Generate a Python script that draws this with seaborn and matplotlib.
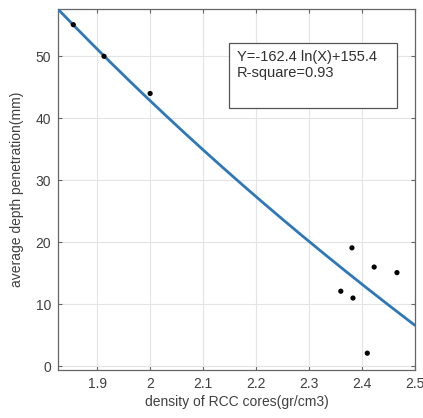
import numpy as np
import pandas as pd
import matplotlib
matplotlib.use("Agg")
import matplotlib.pyplot as plt
from matplotlib.patches import Rectangle
import seaborn as sns

# Data
density = [1.855, 1.913, 2.000, 2.360, 2.381, 2.383, 2.410, 2.423, 2.466]
depth = [55.1, 50.0, 44.0, 12.1, 19.1, 11.0, 2.1, 16.0, 15.1]

# Fitted model as printed on the chart
fit_a = -162.4
fit_b = 155.4
fit_label = ["Y=-162.4 ln(X)+155.4", "R-square=0.93"]

x_ticks = [1.9, 2.0, 2.1, 2.2, 2.3, 2.4, 2.5]
x_tick_labels = ["1.9", "2", "2.1", "2.2", "2.3", "2.4", "2.5"]
y_ticks = [0, 10, 20, 30, 40, 50]

sns.set_theme(style="white")
plt.rcParams["font.family"] = ["Liberation Sans", "DejaVu Sans"]

fig = plt.figure(figsize=(4.23, 4.18), dpi=100)
ax = fig.add_axes([0.137, 0.115, 0.844, 0.863])

xlim = (1.826, 2.5)
ylim = (-0.6, 57.6)

xs = np.linspace(xlim[0], xlim[1], 200)
fit_df = pd.DataFrame({"x": xs, "y": fit_a * np.log(xs) + fit_b})
pts_df = pd.DataFrame({"x": density, "y": depth})

ax.grid(True, color="#e4e4e4", linewidth=0.8)
ax.set_axisbelow(True)

sns.lineplot(data=fit_df, x="x", y="y", ax=ax, color="#2e78b8", linewidth=2.0, zorder=3)
sns.scatterplot(data=pts_df, x="x", y="y", ax=ax, color="black", s=14, edgecolor="none", zorder=4)

ax.set_xlim(*xlim)
ax.set_ylim(*ylim)
ax.set_xticks(x_ticks)
ax.set_xticklabels(x_tick_labels)
ax.set_yticks(y_ticks)

for s in ax.spines.values():
    s.set_visible(True)
    s.set_color("#666666")
    s.set_linewidth(0.9)

ax.tick_params(direction="in", length=3, width=0.8, color="#666666",
               top=True, right=True, bottom=True, left=True,
               labelsize=10, labelcolor="#404040", pad=5)

ax.set_xlabel("density of RCC cores(gr/cm3)", fontsize=10, color="#404040", labelpad=3)
ax.set_ylabel("average depth penetration(mm)", fontsize=10, color="#404040", labelpad=8)

ax.add_patch(Rectangle((0.479, 0.726), 0.471, 0.181, transform=ax.transAxes,
                       facecolor="white", edgecolor="#555555", linewidth=0.9, zorder=5))
ax.text(0.501, 0.887, "\n".join(fit_label), transform=ax.transAxes,
        fontsize=10.5, color="#303030", va="top", ha="left", linespacing=1.2, zorder=6)

fig.savefig("out.png", dpi=100)
